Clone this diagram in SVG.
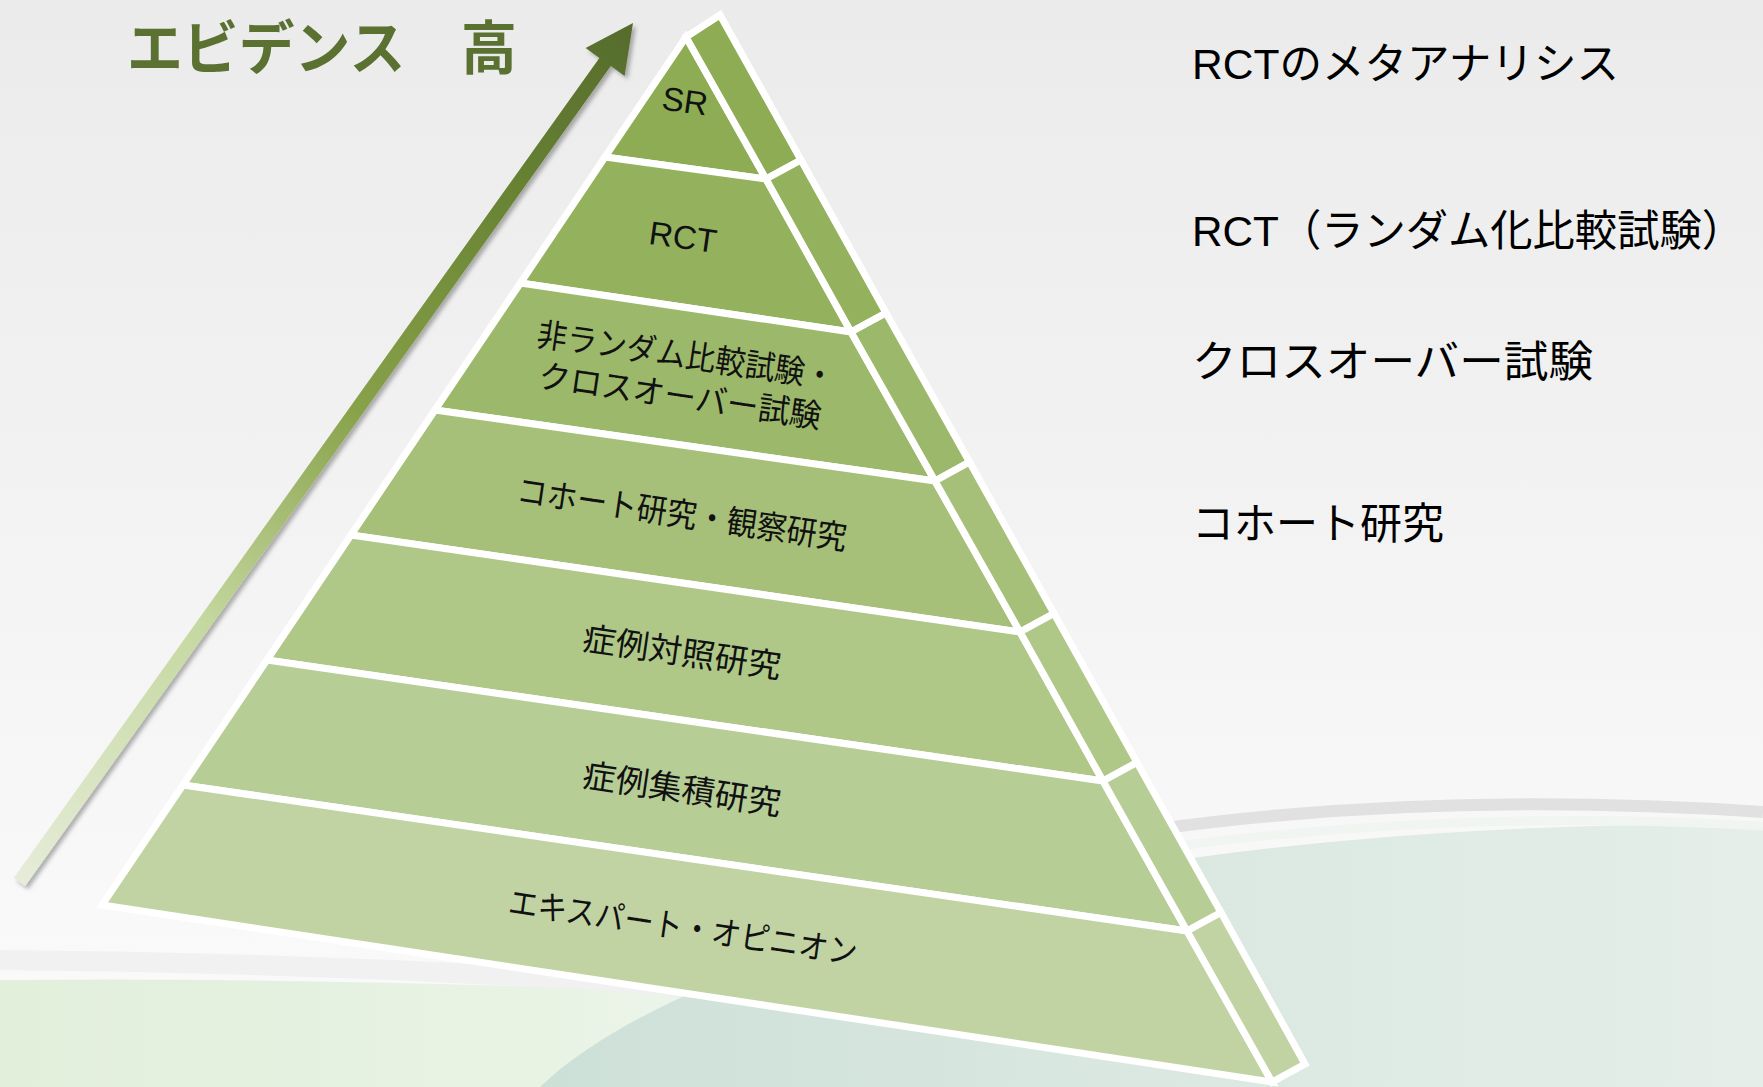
<svg xmlns="http://www.w3.org/2000/svg" width="1763" height="1087" viewBox="0 0 1763 1087">
<defs>
<linearGradient id="bg" x1="0" y1="0" x2="0" y2="1">
<stop offset="0" stop-color="#ebebeb"/>
<stop offset="0.55" stop-color="#f4f4f4"/>
<stop offset="0.85" stop-color="#f9f9f9"/>
<stop offset="1" stop-color="#fafafa"/>
</linearGradient>
<linearGradient id="green" x1="0" y1="0" x2="900" y2="0" gradientUnits="userSpaceOnUse">
<stop offset="0" stop-color="#e2efdb"/>
<stop offset="0.6" stop-color="#e8f3e4"/>
<stop offset="1" stop-color="#f1f6f0"/>
</linearGradient>
<linearGradient id="teal" x1="540" y1="0" x2="1763" y2="0" gradientUnits="userSpaceOnUse">
<stop offset="0" stop-color="#cde0d8"/>
<stop offset="0.5" stop-color="#dae8e1"/>
<stop offset="1" stop-color="#e5eee9"/>
</linearGradient>
<linearGradient id="arrowGrad" x1="19" y1="882" x2="633" y2="23" gradientUnits="userSpaceOnUse">
<stop offset="0" stop-color="#e6ecd9"/>
<stop offset="0.3" stop-color="#c5d8a0"/>
<stop offset="0.55" stop-color="#88a24a"/>
<stop offset="0.8" stop-color="#688333"/>
<stop offset="1" stop-color="#566b2c"/>
</linearGradient>
<filter id="shadow" x="-10%" y="-10%" width="120%" height="120%">
<feDropShadow dx="3" dy="3" stdDeviation="2" flood-color="#000" flood-opacity="0.3"/>
</filter>
<style>
.face{stroke:#fff;stroke-width:7;stroke-linejoin:miter}
.lbl{font-family:"Liberation Sans","Noto Sans CJK JP",sans-serif;font-size:33px;fill:#111;text-anchor:middle}
.side{font-family:"Liberation Sans","Noto Sans CJK JP",sans-serif;font-size:43px;fill:#000}
.title{font-family:"Noto Sans CJK JP","Liberation Sans",sans-serif;font-size:58px;font-weight:bold;fill:#5a7131}
</style>
</defs>

<g id="background">
<rect x="0" y="0" width="1763" height="1087" fill="url(#bg)"/>
<path d="M0,980 C300,977 600,987 900,1002 L900,1087 L0,1087 Z" fill="url(#green)"/>
<path d="M0,960 C250,962 500,972 760,992" fill="none" stroke="#efefef" stroke-width="20" opacity="0.9"/>
<path d="M540,1087 C640,990 900,900 1200,857 C1400,830 1600,822 1763,826 L1763,1087 Z" fill="url(#teal)"/>
<path d="M1150,830 C1350,802 1550,798 1763,812" fill="none" stroke="#e1e1e1" stroke-width="12"/>
<path d="M1175,846 C1400,818 1600,816 1763,826" fill="none" stroke="#f1f5f2" stroke-width="9"/>
</g>

<g id="connectors">
<polygon id="evidence-arrow" filter="url(#shadow)" fill="url(#arrowGrad)" points="13.8,877.9 599.4,57.9 585.6,48 633,23 624.6,76 610.8,66.1 25.2,886.1"/>
</g>

<g id="title">
<text class="title" x="127" y="69" textLength="390" lengthAdjust="spacingAndGlyphs">エビデンス　高</text>
</g>

<g id="layer-sr">
<polygon class="face" fill="#8dac54" points="686,37 605,157 766,179"/>
<polygon class="face" fill="#8dac54" points="686,37 720,15 801,160 766,179"/>
<text class="lbl" transform="translate(685,101) rotate(8)" y="11.5" font-size="32">SR</text>
</g>

<g id="layer-rct">
<polygon class="face" fill="#94b25e" points="605,157 520.5,283 851,332 766,179"/>
<polygon class="face" fill="#94b25e" points="766,179 801,160 886,313 851,332"/>
<text class="lbl" transform="translate(683,237) rotate(8)" y="11.5" font-size="32">RCT</text>
</g>

<g id="layer-nonrandom">
<polygon class="face" fill="#9cb86a" points="520.5,283 435,410 935,481 851,332"/>
<polygon class="face" fill="#9cb86a" points="851,332 886,313 969.5,462 935,481"/>
<text class="lbl" transform="translate(683,376) rotate(8.3)"><tspan x="0" y="-9" textLength="300" lengthAdjust="spacingAndGlyphs">非ランダム比較試験・</tspan><tspan x="0" y="32" textLength="285" lengthAdjust="spacingAndGlyphs">クロスオーバー試験</tspan></text>
</g>

<g id="layer-cohort">
<polygon class="face" fill="#a7c079" points="435,410 351,535 1020,632 935,481"/>
<polygon class="face" fill="#a7c079" points="935,481 969.5,462 1054,613.5 1020,632"/>
<text class="lbl" transform="translate(682,514) rotate(8.3)" y="12" textLength="333" lengthAdjust="spacingAndGlyphs">コホート研究・観察研究</text>
</g>

<g id="layer-casecontrol">
<polygon class="face" fill="#afc787" points="351,535 267,660 1103,781 1020,632"/>
<polygon class="face" fill="#afc787" points="1020,632 1054,613.5 1137,762.5 1103,781"/>
<text class="lbl" transform="translate(682,652) rotate(8.3)" y="12" textLength="200" lengthAdjust="spacingAndGlyphs">症例対照研究</text>
</g>

<g id="layer-caseseries">
<polygon class="face" fill="#b7cd96" points="267,660 183,785 1187,931 1103,781"/>
<polygon class="face" fill="#b7cd96" points="1103,781 1137,762.5 1221,912.5 1187,931"/>
<text class="lbl" transform="translate(682,789) rotate(8.4)" y="12" textLength="200" lengthAdjust="spacingAndGlyphs">症例集積研究</text>
</g>

<g id="layer-expert">
<polygon class="face" fill="#c1d3a3" points="183,785 102,905 1272,1082 1187,931"/>
<polygon class="face" fill="#c1d3a3" points="1187,931 1221,912.5 1305,1064 1272,1082"/>
<text class="lbl" transform="translate(683,927) rotate(8.4)" y="12" textLength="352" lengthAdjust="spacingAndGlyphs">エキスパート・オピニオン</text>
</g>

<g id="labels-right">
<text class="side" x="1192" y="79" textLength="427" lengthAdjust="spacingAndGlyphs">RCTのメタアナリシス</text>
<text class="side" x="1192" y="246" textLength="552" lengthAdjust="spacingAndGlyphs">RCT（ランダム化比較試験）</text>
<text class="side" x="1192" y="377" textLength="401" lengthAdjust="spacingAndGlyphs">クロスオーバー試験</text>
<text class="side" x="1192" y="539" textLength="252" lengthAdjust="spacingAndGlyphs">コホート研究</text>
</g>
</svg>
